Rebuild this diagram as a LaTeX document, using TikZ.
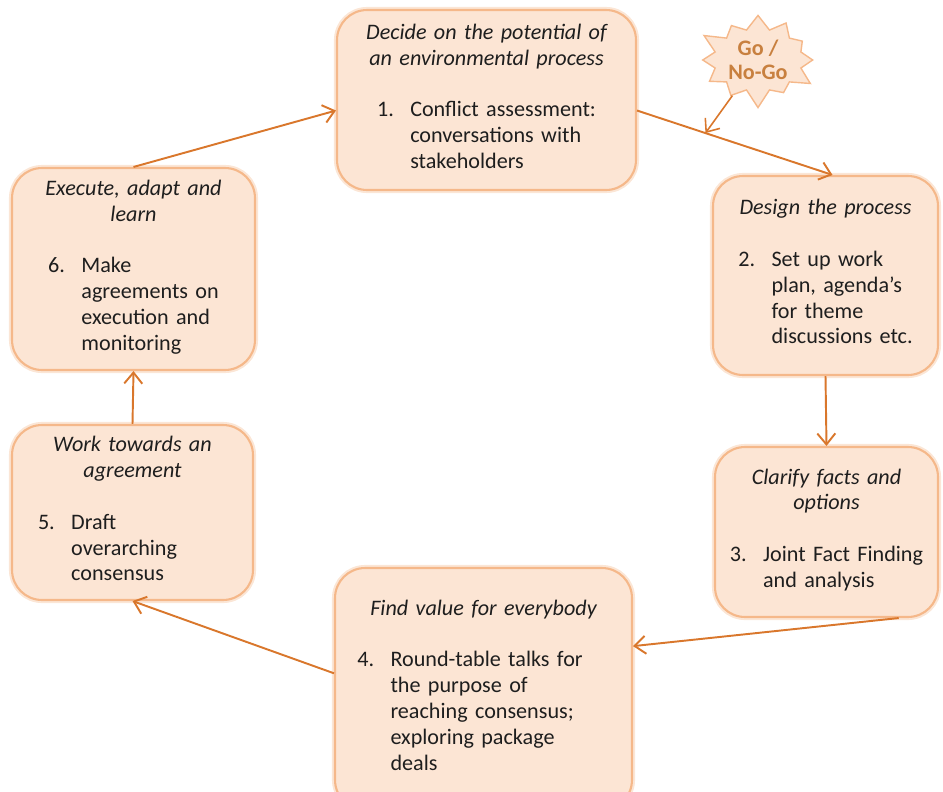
\documentclass[tikz,border=0pt]{standalone}
\usepackage{fontspec}
\setmainfont{Carlito}
\usetikzlibrary{shapes.symbols,arrows.meta}
\definecolor{boxfill}{HTML}{FCE5D4}
\definecolor{boxline}{HTML}{F5B88A}
\definecolor{flowline}{HTML}{D9772C}
\definecolor{burstlabel}{HTML}{C8803F}
\definecolor{phaseink}{HTML}{1E1E1E}
\newcommand{\phasetext}[4][0pt]{%
  {\itshape #2\par}\vspace{\baselineskip}
  \makebox[1.5em][l]{#3.}\begin{tabular}[t]{@{}l@{}}#4\end{tabular}\hspace*{#1}\par}
\newcommand{\connectphase}[2]{%
  \draw[->, flow] (#1) -- (#2)}

\begin{document}
\begin{tikzpicture}[x=0.02cm, y=-0.02cm,
    phase/.style={draw=boxline, line width=1.2pt, fill=boxfill,
    preaction={draw=boxline!35, line width=3.5pt},
    rounded corners=0.6cm, align=center, text=phaseink, inner sep=0pt,
    font=\fontsize{12.6}{14.7}\selectfont},
    flow/.style={draw=flowline, line width=1.1pt},
    burst/.style={starburst, starburst points=12,
    starburst point height=0.38cm, draw=boxline, fill=boxfill,
    line width=0.8pt, text=burstlabel, align=center, inner sep=1pt,
    font=\bfseries\fontsize{12.6}{14}\selectfont},
    >={Straight Barb[length=2.2mm, width=3.6mm]}]
  \useasboundingbox (0,0) rectangle (943,791);
  \clip (0,0) rectangle (943,791);

  \node[phase, minimum width=5.98cm, minimum height=3.6cm, text width=5.7cm] (decide)
    at (486.5,100) {\phasetext{Decide on the potential of\\an environmental process}{1}
    {Conflict assessment:\\conversations with\\stakeholders}};
  \node[phase, minimum width=4.5cm, minimum height=3.98cm, text width=4.3cm] (design)
    at (825.5,275.5) {\phasetext{Design the process}{2}
    {Set up work\\plan, agenda’s\\for theme\\discussions etc.}};
  \node[phase, minimum width=4.46cm, minimum height=3.4cm, text width=4.3cm] (clarify)
    at (826.5,532) {\phasetext{Clarify facts and\\options}{3}
    {Joint Fact Finding\\and analysis}};
  \node[phase, minimum width=5.94cm, minimum height=4.84cm, text width=5.6cm] (findvalue)
    at (483.5,689) {\phasetext[0.54cm]{Find value for everybody}{4}
    {Round-table talks for\\the purpose of\\reaching consensus;\\exploring package\\deals}};
  \node[phase, minimum width=4.82cm, minimum height=3.5cm, text width=4.6cm] (agree)
    at (132.5,512.5) {\phasetext[1cm]{Work towards an\\agreement}{5}
    {Draft\\overarching\\consensus}};
  \node[phase, minimum width=4.86cm, minimum height=4.04cm, text width=4.6cm] (execute)
    at (133.5,269) {\phasetext{Execute, adapt and\\learn}{6}
    {Make\\agreements on\\execution and\\monitoring}};

  \node[burst, minimum width=2.4cm, minimum height=2cm] (gonogo)
    at (758,60) {Go /\\No-Go};

  \connectphase{execute.north}{decide.184};
  \draw[->, flow] (decide.-4) -- coordinate[pos=0.35] (hit) (design.86);
  \connectphase{design.south}{clarify.north};
  \connectphase{clarify.-50}{findvalue.16};
  \connectphase{findvalue.174}{agree.south};
  \connectphase{agree.north}{execute.south};
  \draw[->, flow, line width=0.9pt] (gonogo) -- (hit);
\end{tikzpicture}
\end{document}
